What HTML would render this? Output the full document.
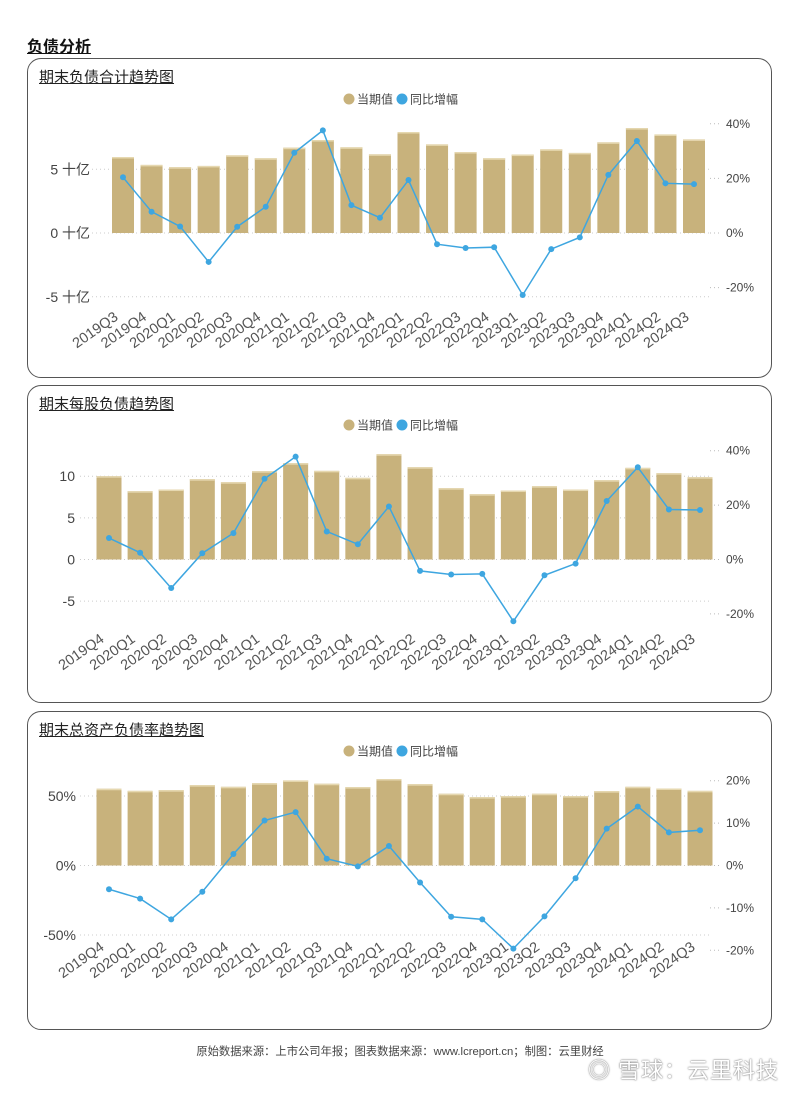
<!DOCTYPE html>
<html><head><meta charset="utf-8">
<style>
html,body{margin:0;padding:0;background:#fff;}
body{width:800px;height:1094px;position:relative;overflow:hidden;font-family:"Liberation Sans","Noto Sans CJK SC",sans-serif;}
.hdr{position:absolute;left:27px;top:33px;font-size:16px;font-weight:bold;text-decoration:underline;color:#111;}
.card{position:absolute;left:27px;width:745px;border:1.3px solid #555;border-radius:14px;box-sizing:border-box;}
.ttl{position:absolute;left:11px;top:7px;font-size:15px;text-decoration:underline;color:#222;}
svg{position:absolute;left:0;top:0;}
.foot{position:absolute;left:0;width:800px;top:1043px;text-align:center;font-size:11.3px;color:#444;}
.wm{position:absolute;left:588px;top:1053px;font-size:22px;color:#fff;text-shadow:0 0 2px #888,0 0 1px #666;letter-spacing:1px;}
</style></head><body>
<div class="hdr">负债分析</div>
<div class="card" style="top:58px;height:320px"><div class="ttl">期末负债合计趋势图</div></div>
<div class="card" style="top:385px;height:318px"><div class="ttl">期末每股负债趋势图</div></div>
<div class="card" style="top:711px;height:319px"><div class="ttl">期末总资产负债率趋势图</div></div>
<svg id="chart" width="800" height="1094"></svg>
<div class="foot">原始数据来源：上市公司年报；图表数据来源：www.lcreport.cn；制图：云里财经</div>
<div class="wm">◎ 雪球：云里科技</div>
<script>
const cats1 = ["2019Q3","2019Q4","2020Q1","2020Q2","2020Q3","2020Q4","2021Q1","2021Q2","2021Q3","2021Q4","2022Q1","2022Q2","2022Q3","2022Q4","2023Q1","2023Q2","2023Q3","2023Q4","2024Q1","2024Q2","2024Q3"];
const vals1 = [5.96,5.34,5.16,5.26,6.09,5.86,6.69,7.29,6.72,6.17,7.92,6.95,6.35,5.86,6.15,6.56,6.28,7.11,8.23,7.73,7.34];
const yoy1 = [20.4,7.8,2.4,-10.6,2.3,9.6,29.4,37.6,10.2,5.6,19.4,-4.1,-5.5,-5.2,-22.7,-5.9,-1.6,21.3,33.7,18.2,17.9];
const leftTicks1 = [-5,0,5];
const leftLabels1 = ["-5 十亿","0 十亿","5 十亿"];
const rightTicks1 = [-20,0,20,40];

const cats2 = ["2019Q4","2020Q1","2020Q2","2020Q3","2020Q4","2021Q1","2021Q2","2021Q3","2021Q4","2022Q1","2022Q2","2022Q3","2022Q4","2023Q1","2023Q2","2023Q3","2023Q4","2024Q1","2024Q2","2024Q3"];
const vals2 = [10.0,8.2,8.4,9.64,9.28,10.6,11.56,10.64,9.8,12.64,11.08,8.56,7.84,8.28,8.8,8.4,9.52,11.0,10.36,9.88];
const yoy2 = [7.9,2.5,-10.5,2.3,9.7,29.7,37.8,10.3,5.6,19.5,-4.2,-5.5,-5.3,-22.7,-5.8,-1.5,21.5,33.9,18.4,18.2];
const leftTicks2 = [-5,0,5,10];
const leftLabels2 = ["-5","0","5","10"];
const rightTicks2 = [-20,0,20,40];

const cats3 = cats2;
const vals3 = [55.2,53.7,54.2,57.8,56.6,59.2,61.2,58.8,56.4,62.2,58.5,51.6,49.2,49.9,51.6,49.9,53.5,56.6,55.4,53.7];
const yoy3 = [-5.6,-7.8,-12.7,-6.2,2.7,10.6,12.6,1.6,-0.2,4.6,-4.0,-12.1,-12.7,-19.6,-12.0,-3.0,8.7,13.9,7.8,8.3];
const leftTicks3 = [-50,0,50];
const leftLabels3 = ["-50%","0%","50%"];
const rightTicks3 = [-20,-10,0,10,20];

const NS="http://www.w3.org/2000/svg";
const svg=document.getElementById('chart');
function mk(tag,attrs,parent){const e=document.createElementNS(NS,tag);for(const k in attrs)e.setAttribute(k,attrs[k]);(parent||svg).appendChild(e);return e;}

function draw(cfg){
  const g=mk('g',{});
  
  
  const n=cfg.cats.length;
  const xs=i=>cfg.x0+i*(cfg.x1-cfg.x0)/(n-1);
  const yl=v=>cfg.zeroY-v*cfg.lpx;
  const yr=v=>cfg.zeroY-v*cfg.rpx;
  const lg=mk('g',{},g);
  
  
  mk('circle',{cx:349,cy:cfg.legY,r:5.5,fill:'#c8b27c'},lg);
  const t1=mk('text',{x:357,y:cfg.legY+4.5,'font-size':12,fill:'#444'},lg);t1.textContent='当期值';
  mk('circle',{cx:402,cy:cfg.legY,r:5.5,fill:'#3ea6e0'},lg);
  const t2=mk('text',{x:410,y:cfg.legY+4.5,'font-size':12,fill:'#444'},lg);t2.textContent='同比增幅';
  cfg.lt.forEach((v,i)=>{
    mk('line',{x1:cfg.gx0,x2:712,y1:yl(v),y2:yl(v),stroke:'#ccc','stroke-dasharray':'1,3'},g);
    const t=mk('text',{x:cfg.lx,y:yl(v)+5,'text-anchor':'end','font-size':14,fill:'#444'},g);
    
    
    t.textContent=cfg.ll[i];
  });
  cfg.rt.forEach(v=>{
    mk('line',{x1:710,x2:720,y1:yr(v),y2:yr(v),stroke:'#bbb','stroke-dasharray':'1,3'},g);
    const t=mk('text',{x:726,y:yr(v)+4,'font-size':12,fill:'#444'},g);
    
    
    t.textContent=v+'%';
  });
  cfg.vals.forEach((v,i)=>{
    const y=yl(v);
    const b=mk('rect',{x:xs(i)-cfg.bw/2,y:y,width:cfg.bw,height:cfg.zeroY-y,fill:'#c8b27c'},g);
    
    
    mk('rect',{x:xs(i)-cfg.bw/2,y:y,width:cfg.bw,height:1.5,fill:'#e6d8b0'},g);
  });
  const pts=cfg.yoy.map((v,i)=>xs(i)+','+yr(v)).join(' ');
  const pl=mk('polyline',{points:pts,fill:'none',stroke:'#3ea6e0','stroke-width':1.5},g);
  
  
  cfg.yoy.forEach((v,i)=>{
    const c=mk('circle',{cx:xs(i),cy:yr(v),r:3,fill:'#3ea6e0'},g);
    
    
  });
  cfg.cats.forEach((c,i)=>{
    const x=xs(i)-4,y=cfg.labY;
    const t=mk('text',{x:x,y:y,'text-anchor':'end','font-size':14.5,fill:'#555',transform:'rotate(-35 '+x+' '+y+')'},g);
    
    
    t.textContent=c;
  });
}
draw({name:'total-liabilities-chart',cats:cats1,vals:vals1,yoy:yoy1,lt:leftTicks1,ll:leftLabels1,rt:rightTicks1,
  x0:123,x1:694,bw:22,zeroY:233,lpx:12.75,rpx:2.73,legY:99,lx:90,gx0:92,labY:319});
draw({name:'per-share-liabilities-chart',cats:cats2,vals:vals2,yoy:yoy2,lt:leftTicks2,ll:leftLabels2,rt:rightTicks2,
  x0:109,x1:700,bw:25,zeroY:559.5,lpx:8.33,rpx:2.72,legY:425,lx:75,gx0:80,labY:641});
draw({name:'debt-ratio-chart',cats:cats3,vals:vals3,yoy:yoy3,lt:leftTicks3,ll:leftLabels3,rt:rightTicks3,
  x0:109,x1:700,bw:25,zeroY:865.5,lpx:1.39,rpx:4.24,legY:751,lx:76,gx0:80,labY:949});
</script>
</body></html>
